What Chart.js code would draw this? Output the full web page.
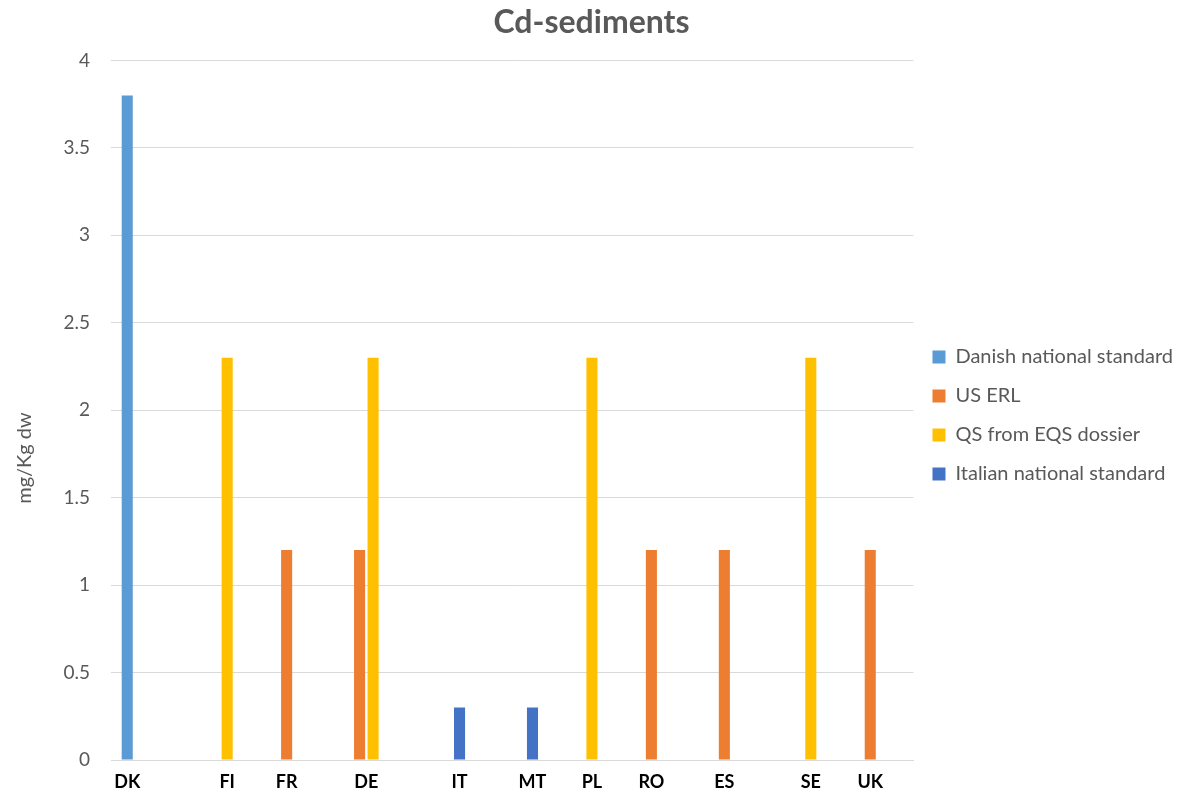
<!DOCTYPE html>
<html>
<head>
<meta charset="utf-8">
<script src="https://cdn.jsdelivr.net/npm/chart.js@4"></script>
<style>
  html, body { margin: 0; padding: 0; background: #ffffff; }
  #wrap { width: 1192px; height: 793px; }
</style>
</head>
<body>
<div id="wrap"><canvas id="c" width="1192" height="793"></canvas></div>
<script>
// Country codes along the x axis
const categories = ['DK', 'FI', 'FR', 'DE', 'IT', 'MT', 'PL', 'RO', 'ES', 'SE', 'UK'];

// Cd limit values in sediments, mg/kg dry weight (null = no value for that country)
const danishStandard  = [3.8, null, null, null, null, null, null, null, null, null, null];
const usErl           = [null, null, 1.2, 1.2, null, null, null, 1.2, 1.2, null, 1.2];
const qsEqsDossier    = [null, 2.3, null, 2.3, null, null, 2.3, null, null, 2.3, null];
const italianStandard = [null, null, null, null, 0.3, 0.3, null, null, null, null, null];

const seriesNames = ['Danish national standard', 'US ERL', 'QS from EQS dossier', 'Italian national standard'];
const seriesColors = ['#5B9BD5', '#ED7D31', '#FFC000', '#4472C4'];

const yTicks = [0, 0.5, 1, 1.5, 2, 2.5, 3, 3.5, 4];

const FONT = 'Lato, "Open Sans", sans-serif';
const GREY = '#595959';

// Category labels centred under the bars that actually carry a value
const barLabels = {
  id: 'barLabels',
  afterDraw(chart) {
    const ctx = chart.ctx;
    ctx.save();
    ctx.font = 'bold 18px ' + FONT;
    ctx.fillStyle = '#000000';
    ctx.textAlign = 'center';
    ctx.textBaseline = 'middle';
    categories.forEach((cat, i) => {
      const xs = [];
      chart.data.datasets.forEach((ds, d) => {
        if (ds.data[i] !== null && chart.isDatasetVisible(d)) {
          xs.push(chart.getDatasetMeta(d).data[i].x);
        }
      });
      const x = xs.length ? xs.reduce((a, b) => a + b, 0) / xs.length : chart.scales.x.getPixelForValue(i);
      ctx.fillText(cat, x, chart.chartArea.bottom + 22);
    });
    ctx.restore();
  }
};

// Rotated y-axis title
const yTitle = {
  id: 'yTitle',
  afterDraw(chart) {
    const ctx = chart.ctx;
    ctx.save();
    ctx.font = '20px ' + FONT;
    ctx.fillStyle = GREY;
    ctx.textAlign = 'center';
    ctx.textBaseline = 'middle';
    ctx.translate(25, 458);
    ctx.rotate(-Math.PI / 2);
    ctx.fillText('mg/Kg dw', 0, 0);
    ctx.restore();
  }
};

const datasets = [danishStandard, usErl, qsEqsDossier, italianStandard].map((data, i) => ({
  label: seriesNames[i],
  data: data,
  backgroundColor: seriesColors[i],
  borderWidth: 0,
  categoryPercentage: 0.74,
  barPercentage: 0.82
}));

new Chart(document.getElementById('c'), {
  type: 'bar',
  data: { labels: categories, datasets: datasets },
  plugins: [barLabels, yTitle],
  options: {
    responsive: false,
    animation: false,
    layout: { padding: { left: 0, right: 9, top: 0, bottom: 0 } },
    plugins: {
      title: {
        display: true,
        text: 'Cd-sediments',
        color: GREY,
        font: { family: FONT, size: 32, weight: 'bold' },
        padding: { top: 3, bottom: 19 }
      },
      legend: {
        position: 'right',
        title: { display: true, text: '', font: { size: 20 }, padding: { top: 7, bottom: 7 } },
        labels: {
          color: GREY,
          font: { family: FONT, size: 20 },
          boxWidth: 13,
          boxHeight: 13,
          padding: 19
        }
      },
      tooltip: { enabled: false }
    },
    scales: {
      x: {
        grid: { display: false },
        border: { color: '#D9D9D9', width: 1 },
        ticks: { color: 'rgba(0,0,0,0)', font: { size: 17 } },
        afterFit(scale) { scale.height = 33; }
      },
      y: {
        min: 0,
        max: 4,
        afterBuildTicks(scale) { scale.ticks = yTicks.map(v => ({ value: v })); },
        ticks: {
          color: GREY,
          font: { family: FONT, size: 19 },
          padding: 21,
          callback: v => String(v)
        },
        grid: { color: '#D9D9D9', drawTicks: false },
        border: { display: false },
        afterFit(scale) { scale.width = 111; }
      }
    }
  }
});
</script>
</body>
</html>
